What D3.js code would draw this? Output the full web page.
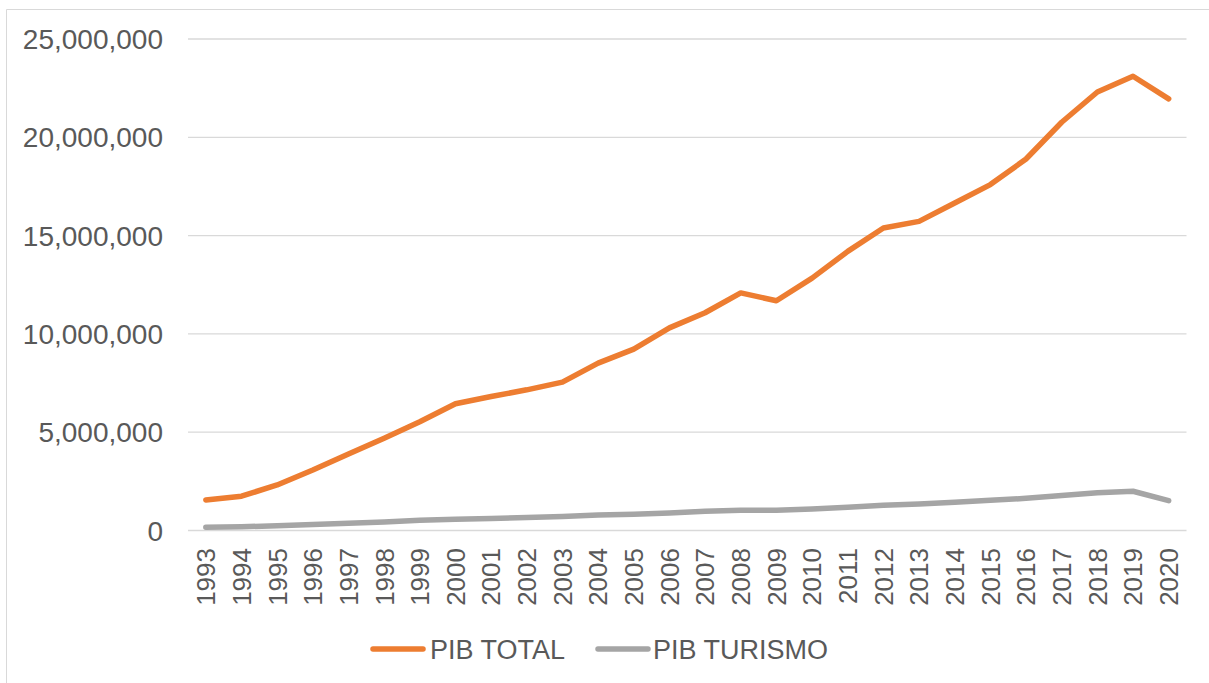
<!DOCTYPE html>
<html>
<head>
<meta charset="utf-8">
<script src="https://cdn.jsdelivr.net/npm/d3@7"></script>
<style>
  body { margin: 0; background: #fff; }
  svg { display: block; font-family: "Liberation Sans", Arial, sans-serif; }
</style>
</head>
<body>
<svg id="chart" width="1209" height="683"></svg>
<script>
const years = ["1993","1994","1995","1996","1997","1998","1999","2000","2001","2002","2003","2004","2005","2006","2007","2008","2009","2010","2011","2012","2013","2014","2015","2016","2017","2018","2019","2020"];
const pibTotal = [1530000,1720000,2290000,3050000,3870000,4670000,5510000,6420000,6790000,7130000,7520000,8490000,9200000,10280000,11050000,12060000,11660000,12810000,14170000,15360000,15700000,16630000,17570000,18870000,20740000,22280000,23080000,21930000];
const pibTurismo = [140000,170000,210000,280000,340000,410000,490000,550000,590000,630000,690000,760000,800000,860000,950000,1010000,1000000,1070000,1160000,1260000,1320000,1410000,1510000,1610000,1750000,1890000,1970000,1490000];
const yTicks = [0,5000000,10000000,15000000,20000000,25000000];
const seriesNames = ["PIB TOTAL","PIB TURISMO"];
const colors = ["#ED7D31","#A5A5A5"];

(function(){
const svg = d3.select("#chart");
const W = 1209, H = 683;

// chart frame (top & left edges visible)
svg.append("line").attr("x1",6.5).attr("x2",W).attr("y1",9.5).attr("y2",9.5).attr("stroke","#d9d9d9").attr("stroke-width",1);
svg.append("line").attr("x1",6.5).attr("x2",6.5).attr("y1",9.5).attr("y2",H).attr("stroke","#d9d9d9").attr("stroke-width",1);

const pLeft = 188, pRight = 1186.5, pTop = 38.5, pBottom = 530;
const x = d3.scaleBand().domain(years).range([pLeft, pRight]);
const y = d3.scaleLinear().domain([0, 25000000]).range([pBottom, pTop]);

// gridlines + y labels
const yAxis = d3.axisLeft(y).tickValues(yTicks).tickSize(-(pRight-pLeft)).tickFormat(d3.format(",")).tickPadding(25);
const gy = svg.append("g").attr("transform",`translate(${pLeft},0)`).call(yAxis);
gy.select(".domain").remove();
gy.selectAll(".tick line").attr("stroke","#d9d9d9").attr("stroke-width",1.3);
gy.selectAll(".tick text").attr("fill","#595959").style("font-size","28px").style("font-family","'Liberation Sans', Arial, sans-serif").attr("dy","0.36em");

// x axis labels (rotated)
const xAxis = d3.axisBottom(x).tickSize(0).tickPadding(0);
const gx = svg.append("g").attr("transform",`translate(0,${pBottom})`).call(xAxis);
gx.select(".domain").remove();
gx.selectAll(".tick text")
  .attr("fill","#595959").style("font-size","26px").style("font-family","'Liberation Sans', Arial, sans-serif")
  .attr("text-anchor","end")
  .attr("transform","rotate(-90)")
  .attr("x",-18).attr("y",0).attr("dy","0.36em");

// lines
const line = d3.line().x((d,i)=>x(years[i]) + x.bandwidth()/2).y(d=>y(d));
[pibTotal, pibTurismo].forEach((data, k) => {
  svg.append("path").datum(data)
    .attr("fill","none").attr("stroke",colors[k]).attr("stroke-width",5.5)
    .attr("stroke-linejoin","round").attr("stroke-linecap","round")
    .attr("d", line);
});

// legend
const legendY = 649;
const legendItems = [{x:373, tx:430}, {x:598, tx:653}];
seriesNames.forEach((name,k)=>{
  const it = legendItems[k];
  svg.append("line").attr("x1",it.x).attr("x2",it.x+50).attr("y1",legendY).attr("y2",legendY)
    .attr("stroke",colors[k]).attr("stroke-width",5.5).attr("stroke-linecap","round");
  svg.append("text").attr("x",it.tx).attr("y",legendY).attr("dy","0.36em")
    .attr("fill","#595959").style("font-size","27px").text(name);
});
})();
</script>
</body>
</html>
